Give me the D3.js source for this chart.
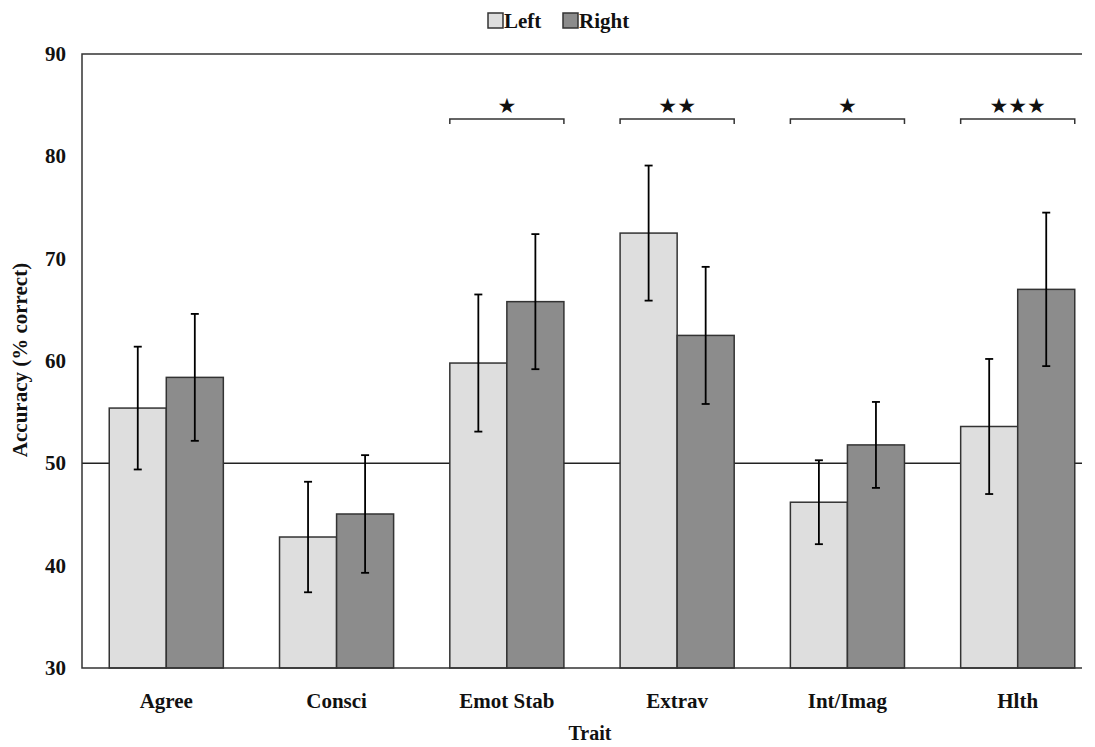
<!DOCTYPE html>
<html>
<head>
<meta charset="utf-8">
<script src="https://cdn.jsdelivr.net/npm/d3@7"></script>
<style>
body{margin:0;background:#fff}
text{font-family:"Liberation Serif","DejaVu Serif",serif;font-weight:bold;fill:#111}
</style>
</head>
<body>
<svg id="chart" width="1095" height="747"></svg>
<script>
var traits=["Agree","Consci","Emot Stab","Extrav","Int/Imag","Hlth"]
var series=["Left","Right"]
var leftVals=[55.4,42.8,59.8,72.5,46.2,53.6]
var leftErr=[6.0,5.4,6.7,6.6,4.1,6.6]
var rightVals=[58.4,45.05,65.8,62.5,51.8,67.0]
var rightErr=[6.2,5.75,6.6,6.7,4.2,7.5]
var yTicks=[30,40,50,60,70,80,90]
var sigTraits=["Emot Stab","Extrav","Int/Imag","Hlth"]
var sigStars=["\u2605","\u2605\u2605","\u2605","\u2605\u2605\u2605"]
var colors={"Left":"#dedede","Right":"#8c8c8c"}

var svg=d3.select("#chart")
var pL=82,pT=54,pB=668,pR=1082

var y=d3.scaleLinear().domain([30,90]).range([pB,pT])
var x=d3.scaleBand().domain(traits).range([pL,1102]).paddingInner(0.33).paddingOuter(0.16)
var xs=d3.scaleBand().domain(series).range([0,x.bandwidth()])

// reference line at 50 (behind bars)
svg.append("line").attr("x1",pL).attr("x2",pR)
  .attr("y1",y(50)).attr("y2",y(50)).attr("stroke","#222").attr("stroke-width",1.5)

var rows=traits.map(function(t,i){
  return [{t:t,s:"Left",v:leftVals[i],e:leftErr[i]},{t:t,s:"Right",v:rightVals[i],e:rightErr[i]}]
})
var flat=[].concat.apply([],rows)

svg.selectAll("rect.bar").data(flat).enter().append("rect")
  .attr("class","bar")
  .attr("x",function(d){return x(d.t)+xs(d.s)})
  .attr("y",function(d){return y(d.v)})
  .attr("width",xs.bandwidth())
  .attr("height",function(d){return y(30)-y(d.v)})
  .attr("fill",function(d){return colors[d.s]})
  .attr("stroke","#333").attr("stroke-width",1.5)

// error bars
var eb=svg.selectAll("g.err").data(flat).enter().append("g").attr("class","err")
  .attr("transform",function(d){return "translate("+(x(d.t)+xs(d.s)+xs.bandwidth()/2)+",0)"})
eb.append("line").attr("x1",0).attr("x2",0)
  .attr("y1",function(d){return y(d.v+d.e)}).attr("y2",function(d){return y(d.v-d.e)})
  .attr("stroke","#000").attr("stroke-width",1.8)
eb.append("line").attr("x1",-4).attr("x2",4)
  .attr("y1",function(d){return y(d.v+d.e)}).attr("y2",function(d){return y(d.v+d.e)})
  .attr("stroke","#000").attr("stroke-width",1.8)
eb.append("line").attr("x1",-4).attr("x2",4)
  .attr("y1",function(d){return y(d.v-d.e)}).attr("y2",function(d){return y(d.v-d.e)})
  .attr("stroke","#000").attr("stroke-width",1.8)

// frame
svg.append("path").attr("d","M"+pR+","+pT+"H"+pL+"V"+pB+"H"+pR)
  .attr("fill","none").attr("stroke","#333").attr("stroke-width",1.5)

// y ticks
svg.selectAll("text.yt").data(yTicks).enter().append("text")
  .attr("x",66).attr("y",function(d){return y(d)+7})
  .attr("text-anchor","end").attr("font-size",21)
  .text(function(d){return d})

// x labels
svg.selectAll("text.xt").data(traits).enter().append("text")
  .attr("x",function(d){return x(d)+x.bandwidth()/2}).attr("y",708)
  .attr("text-anchor","middle").attr("font-size",21)
  .text(function(d){return d})

svg.append("text").attr("x",590).attr("y",740)
  .attr("text-anchor","middle").attr("font-size",20).text("Trait")

svg.append("text").attr("transform","translate(27,360) rotate(-90)")
  .attr("text-anchor","middle").attr("font-size",21).text("Accuracy (% correct)")

// significance brackets
sigTraits.forEach(function(t,i){
  var x0=x(t),x1=x(t)+x.bandwidth(),by=119
  svg.append("path").attr("d","M"+x0+","+(by+5)+"V"+by+"H"+x1+"V"+(by+5))
    .attr("fill","none").attr("stroke","#333").attr("stroke-width",1.5)
  svg.append("text").attr("x",(x0+x1)/2).attr("y",by-6)
    .attr("text-anchor","middle").attr("font-size",21)
    .style("font-family","'DejaVu Sans',sans-serif").style("font-weight","normal")
    .text(sigStars[i])
})

// legend
var leg=svg.append("g")
var lx=[488,563]
series.forEach(function(s,i){
  leg.append("rect").attr("x",lx[i]).attr("y",13).attr("width",15).attr("height",15)
    .attr("fill",colors[s]).attr("stroke","#333").attr("stroke-width",1.5)
  leg.append("text").attr("x",lx[i]+16).attr("y",28).attr("font-size",21).text(s)
})
</script>
</body>
</html>
